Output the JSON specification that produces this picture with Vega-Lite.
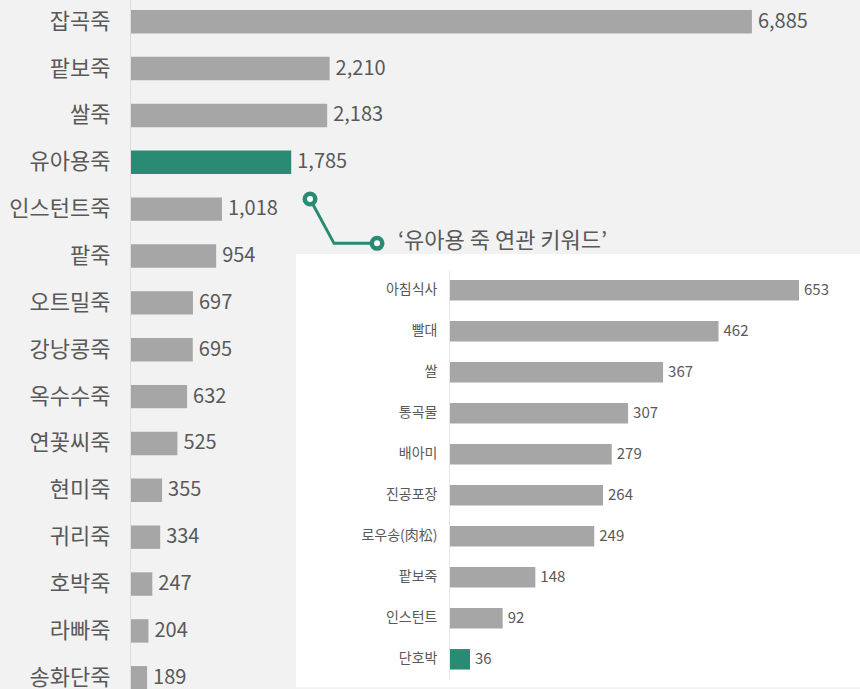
{
  "$schema": "https://vega.github.io/schema/vega-lite/v6.json",
  "width": 860,
  "height": 689,
  "autosize": {"type": "none"},
  "padding": 0,
  "background": "#f2f2f2",
  "config": {"view": {"stroke": null}, "font": "Noto Sans CJK KR"},
  "datasets": {
    "main": [
      {"item": "잡곡죽", "count": 6885},
      {"item": "팥보죽", "count": 2210},
      {"item": "쌀죽", "count": 2183},
      {"item": "유아용죽", "count": 1785},
      {"item": "인스턴트죽", "count": 1018},
      {"item": "팥죽", "count": 954},
      {"item": "오트밀죽", "count": 697},
      {"item": "강낭콩죽", "count": 695},
      {"item": "옥수수죽", "count": 632},
      {"item": "연꽃씨죽", "count": 525},
      {"item": "현미죽", "count": 355},
      {"item": "귀리죽", "count": 334},
      {"item": "호박죽", "count": 247},
      {"item": "라빠죽", "count": 204},
      {"item": "송화단죽", "count": 189}
    ],
    "inset": [
      {"keyword": "아침식사", "count": 653},
      {"keyword": "빨대", "count": 462},
      {"keyword": "쌀", "count": 367},
      {"keyword": "통곡물", "count": 307},
      {"keyword": "배아미", "count": 279},
      {"keyword": "진공포장", "count": 264},
      {"keyword": "로우송(肉松)", "count": 249},
      {"keyword": "팥보죽", "count": 148},
      {"keyword": "인스턴트", "count": 92},
      {"keyword": "단호박", "count": 36}
    ],
    "panel": [{"x0": 1838, "x1": 8082, "y0": 5.457, "y1": 14.70}],
    "connector": [
      {"x": 1993, "y": 4.284, "o": 1},
      {"x": 2259, "y": 5.23, "o": 2},
      {"x": 2735, "y": 5.23, "o": 3}
    ],
    "dots": [
      {"x": 1993, "y": 4.284},
      {"x": 2735, "y": 5.23}
    ],
    "note": [{"x": 2967, "y": 5.18, "label": "‘유아용 죽 연관 키워드’"}]
  },
  "layer": [
    {
      "data": {"name": "main"},
      "encoding": {
        "y": {
          "field": "item", "type": "nominal", "sort": null,
          "scale": {"range": [-1.73, 701.2], "paddingInner": 0.5, "paddingOuter": 0.25},
          "axis": {"orient": "left", "offset": -130, "title": null, "ticks": false, "labelPadding": 20,
                   "labelFontSize": 22, "labelColor": "#595959", "labelFont": "Noto Sans CJK KR",
                   "domainColor": "#dddddd", "domainWidth": 1, "zindex": 1, "labelLimit": 300}
        },
        "x": {"field": "count", "type": "quantitative",
              "scale": {"domain": [0, 8082], "range": [130, 860], "nice": false, "zero": true}, "axis": null}
      },
      "layer": [
        {"mark": {"type": "bar"},
         "encoding": {"color": {"condition": {"test": "datum.item === '유아용죽'", "value": "#2a8b74"}, "value": "#a6a6a6"}}},
        {"mark": {"type": "text", "align": "left", "baseline": "middle", "dx": 6, "fontSize": 20, "color": "#595959"},
         "encoding": {"text": {"field": "count", "format": ","}}}
      ]
    },
    {
      "layer": [
        {
          "data": {"name": "panel"},
          "mark": {"type": "rect", "fill": "#ffffff"},
          "encoding": {
            "x": {"field": "x0", "type": "quantitative", "scale": {"domain": [0, 8082], "range": [130, 860], "nice": false, "zero": false}, "axis": null},
            "x2": {"field": "x1"},
            "y": {"field": "y0", "type": "quantitative", "scale": {"domain": [0, 15], "range": [-1.73, 701.2], "nice": false, "zero": false}, "axis": null},
            "y2": {"field": "y1"}
          }
        },
        {
          "data": {"name": "connector"},
          "mark": {"type": "line", "stroke": "#2a8b74", "strokeWidth": 3},
          "encoding": {
            "x": {"field": "x", "type": "quantitative"},
            "y": {"field": "y", "type": "quantitative"},
            "order": {"field": "o"}
          }
        },
        {
          "data": {"name": "dots"},
          "mark": {"type": "point", "shape": "circle", "filled": false, "fill": "#ffffff", "fillOpacity": 1, "stroke": "#2a8b74", "strokeWidth": 4.5, "size": 110, "opacity": 1},
          "encoding": {
            "x": {"field": "x", "type": "quantitative"},
            "y": {"field": "y", "type": "quantitative"}
          }
        },
        {
          "data": {"name": "note"},
          "mark": {"type": "text", "align": "left", "baseline": "middle", "fontSize": 22, "color": "#595959"},
          "encoding": {
            "x": {"field": "x", "type": "quantitative"},
            "y": {"field": "y", "type": "quantitative"},
            "text": {"field": "label"}
          }
        }
      ]
    },
    {
      "data": {"name": "inset"},
      "encoding": {
        "y": {
          "field": "keyword", "type": "nominal", "sort": null,
          "scale": {"range": [269.8, 679.8], "paddingInner": 0.5, "paddingOuter": 0.25},
          "axis": {"orient": "left", "offset": -449, "title": null, "ticks": false, "labelPadding": 12,
                   "labelFontSize": 14, "labelColor": "#595959", "labelFont": "Noto Sans CJK KR",
                   "domainColor": "#e8e8e8", "domainWidth": 1, "zindex": 1}
        },
        "x": {"field": "count", "type": "quantitative",
              "scale": {"domain": [0, 600], "range": [449, 799], "clamp": true, "nice": false, "zero": true}, "axis": null}
      },
      "layer": [
        {"mark": {"type": "bar"},
         "encoding": {"color": {"condition": {"test": "datum.keyword === '단호박'", "value": "#2a8b74"}, "value": "#a6a6a6"}}},
        {"mark": {"type": "text", "align": "left", "baseline": "middle", "dx": 5, "fontSize": 15, "color": "#595959"},
         "encoding": {"text": {"field": "count", "format": ","}}}
      ]
    }
  ],
  "resolve": {
    "scale": {"x": "independent", "y": "independent"},
    "axis": {"x": "independent", "y": "independent"}
  }
}
